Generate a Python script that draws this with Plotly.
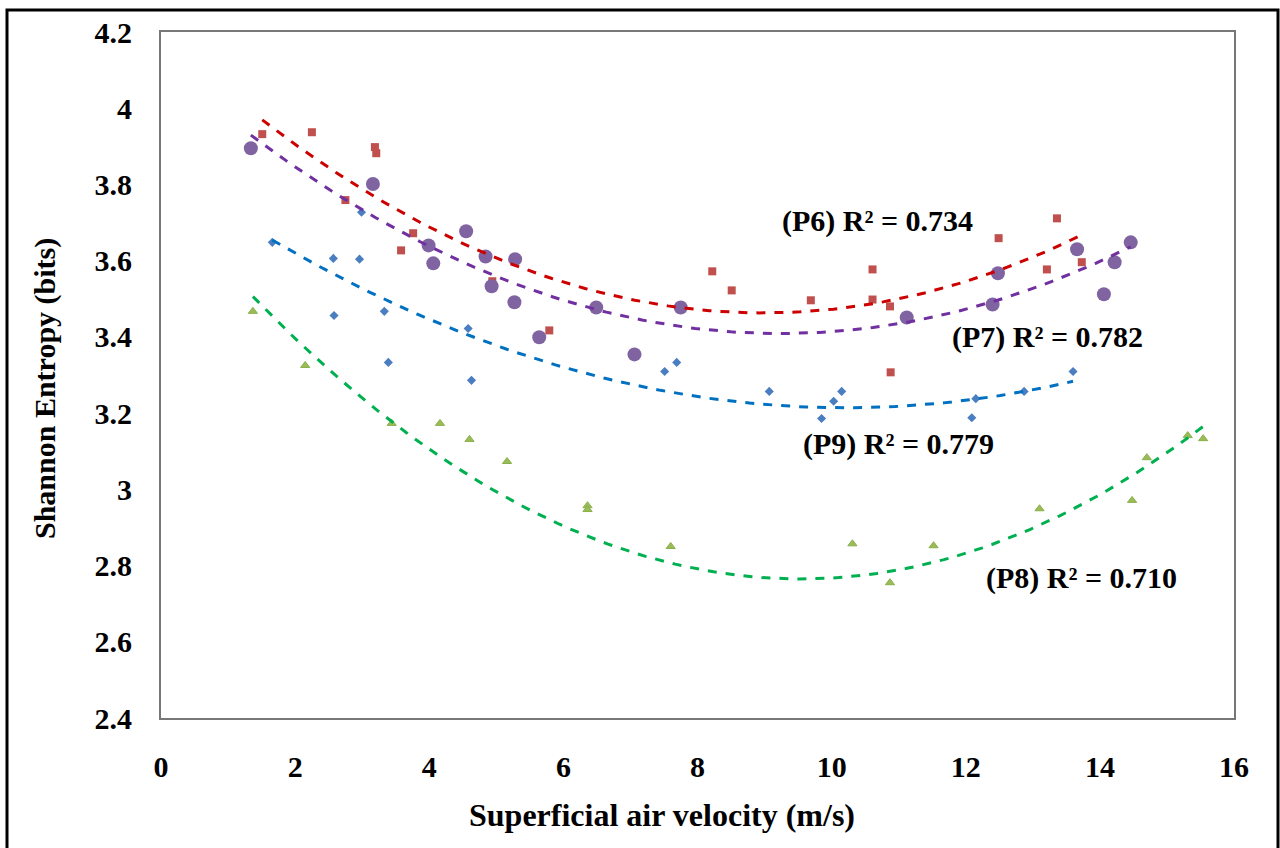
import numpy as np
import plotly.graph_objects as go

# ---- data ----
p6_x = [1.51, 2.25, 3.19, 3.21, 2.75, 3.58, 3.76, 4.94, 5.79, 8.22, 8.51, 9.69, 10.61, 10.61, 10.87, 10.88, 12.49, 13.21, 13.36, 13.73]
p6_y = [3.932, 3.937, 3.898, 3.882, 3.759, 3.627, 3.672, 3.546, 3.417, 3.572, 3.522, 3.496, 3.577, 3.498, 3.480, 3.307, 3.659, 3.577, 3.711, 3.596]

p7_x = [1.34, 3.16, 3.99, 4.06, 4.55, 4.84, 4.93, 5.28, 5.27, 5.64, 6.49, 7.06, 7.75, 11.12, 12.48, 12.40, 13.66, 14.22, 14.46, 14.06]
p7_y = [3.895, 3.801, 3.640, 3.593, 3.677, 3.611, 3.533, 3.604, 3.491, 3.399, 3.477, 3.354, 3.477, 3.451, 3.567, 3.485, 3.630, 3.596, 3.648, 3.512]

p9_x = [1.66, 2.57, 2.96, 2.99, 3.33, 2.58, 3.39, 4.58, 4.63, 7.51, 7.69, 9.07, 9.85, 10.03, 10.15, 12.09, 12.15, 12.87, 13.60]
p9_y = [3.648, 3.606, 3.604, 3.727, 3.467, 3.456, 3.333, 3.422, 3.286, 3.309, 3.333, 3.257, 3.186, 3.231, 3.257, 3.188, 3.238, 3.257, 3.309]

p8_x = [1.37, 2.15, 3.44, 4.16, 4.60, 5.16, 6.36, 6.36, 7.60, 10.31, 11.52, 10.87, 13.10, 14.48, 14.70, 15.31, 15.54]
p8_y = [3.467, 3.325, 3.173, 3.173, 3.131, 3.073, 2.957, 2.947, 2.850, 2.857, 2.852, 2.755, 2.949, 2.971, 3.083, 3.141, 3.133]

# points read along the drawn P9 and P8 trend curves (their fitted lines differ from the visible markers)
p9_trend_x = [1.66, 3.07, 4.91, 6.66, 10.28, 13.60]
p9_trend_y = [3.656, 3.517, 3.386, 3.288, 3.215, 3.283]
p8_trend_x = [1.37, 6.55, 9.49, 13.12, 15.54]
p8_trend_y = [3.506, 2.863, 2.766, 2.907, 3.165]

labels = ["(P6) R² = 0.734", "(P7) R² = 0.782", "(P9) R² = 0.779", "(P8) R² = 0.710"]

x_ticks = [0, 2, 4, 6, 8, 10, 12, 14, 16]
y_ticks = [2.4, 2.6, 2.8, 3.0, 3.2, 3.4, 3.6, 3.8, 4.0, 4.2]
y_tick_text = ["2.4", "2.6", "2.8", "3", "3.2", "3.4", "3.6", "3.8", "4", "4.2"]

FONT = "Liberation Serif, Times New Roman, serif"

series = [
    (p6_x, p6_y, p6_x, p6_y, dict(symbol="square", size=8, color="#C0504D"), "#CC0000"),
    (p7_x, p7_y, p7_x, p7_y, dict(symbol="circle", size=14, color="#8064A2"), "#7030A0"),
    (p9_x, p9_y, p9_trend_x, p9_trend_y, dict(symbol="diamond", size=7, color="#4A7EC0"), "#0070C0"),
    (p8_x, p8_y, p8_trend_x, p8_trend_y,
     dict(symbol="triangle-up", size=8, color="#9BBB59", line=dict(color="#8AB04A", width=1)), "#00B050"),
]

fig = go.Figure()
for xs, ys, tx, ty, mk, lc in series:
    fig.add_trace(go.Scatter(x=xs, y=ys, mode="markers", marker=mk, showlegend=False))
for xs, ys, tx, ty, mk, lc in series:
    c = np.polyfit(tx, ty, 2)
    xx = np.linspace(min(xs), max(xs), 100)
    fig.add_trace(go.Scatter(x=xx, y=np.polyval(c, xx), mode="lines",
                             line=dict(color=lc, width=3, dash="dash"), showlegend=False))

# R² labels
label_pos = [(10.69, 3.703), (13.22, 3.399), (10.99, 3.120), (13.72, 2.768)]
for (lx, ly), t in zip(label_pos, labels):
    fig.add_annotation(x=lx, y=ly, text="<b>" + t + "</b>", showarrow=False,
                       xanchor="center", yanchor="middle",
                       font=dict(family=FONT, size=30, color="black"))

# axis titles
fig.add_annotation(xref="paper", yref="paper", x=(662 - 161) / 1073, y=(718 - 815) / 686,
                   xanchor="center", yanchor="middle",
                   text="<b>Superficial air velocity (m/s)</b>", showarrow=False,
                   font=dict(family=FONT, size=32, color="black"))
fig.add_annotation(xref="paper", yref="paper", x=(45 - 161) / 1073, y=(718 - 389) / 686,
                   xanchor="center", yanchor="middle",
                   text="<b>Shannon Entropy (bits)</b>", showarrow=False, textangle=-90,
                   font=dict(family=FONT, size=30, color="black"))

fig.update_layout(
    width=1280, height=848,
    margin=dict(l=161, r=46, t=32, b=130),
    paper_bgcolor="white", plot_bgcolor="white",
    font=dict(family=FONT, color="black"),
    xaxis=dict(range=[0, 16], tickvals=x_ticks, ticktext=["<b>%d</b>" % v for v in x_ticks],
               ticks="", showgrid=False, zeroline=False,
               showline=True, linecolor="#777777", linewidth=2, mirror=True,
               tickfont=dict(family=FONT, size=30, color="black"), ticklabelstandoff=21),
    yaxis=dict(range=[2.4, 4.2], tickvals=y_ticks, ticktext=["<b>%s</b>" % s for s in y_tick_text],
               ticks="", showgrid=False, zeroline=False,
               showline=True, linecolor="#777777", linewidth=2, mirror=True,
               tickfont=dict(family=FONT, size=30, color="black"), ticklabelstandoff=21),
)

# outer chart frame
fig.add_shape(type="rect", xref="paper", yref="paper",
              x0=(7 - 161) / 1073, x1=(1278 - 161) / 1073,
              y0=(718 - 852) / 686, y1=(718 - 10) / 686,
              line=dict(color="black", width=3), fillcolor="rgba(0,0,0,0)", layer="below")

fig.write_html("out.html")
